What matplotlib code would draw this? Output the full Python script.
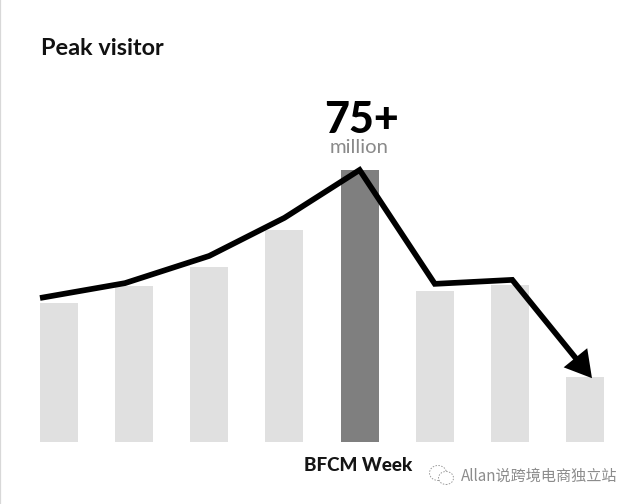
import matplotlib
matplotlib.use("Agg")
import matplotlib.pyplot as plt
from matplotlib.patches import Ellipse, FancyArrowPatch

W, H = 635, 504
bar_positions = [0, 1, 2, 3, 4, 5, 6, 7]
bar_values = [38.3, 43.0, 48.3, 58.5, 75.0, 41.6, 43.3, 17.9]
bar_colors = ["#e0e0e0", "#e0e0e0", "#e0e0e0", "#e0e0e0", "#7f7f7f", "#e0e0e0", "#e0e0e0", "#e0e0e0"]
line_x = [-0.25, 0.88, 2.0, 3.0, 4.0, 5.0, 6.03]
line_y = [39.7, 43.8, 51.3, 61.8, 75.0, 43.6, 44.7]
arrow_end = (7.09, 17.6)

PX_X = 75.2   # pixels per category
PX_Y = 3.627  # pixels per million
X0, Y0 = 58.8, 442

def data_x(px):
    return (px - X0) / PX_X

def data_y(py):
    return (Y0 - py) / PX_Y

fig = plt.figure(figsize=(W / 100, H / 100), dpi=100, facecolor="white")
ax = fig.add_axes([0, 0, 1, 1])
ax.set_xlim(data_x(0), data_x(W))
ax.set_ylim(data_y(H), data_y(0))
ax.axis("off")

ax.bar(bar_positions, bar_values, width=0.505, color=bar_colors, linewidth=0, zorder=1)

# shaft stops inside the arrow head so the tip stays sharp
frac = 0.8
shaft_x = line_x + [line_x[-1] + frac * (arrow_end[0] - line_x[-1])]
shaft_y = line_y + [line_y[-1] + frac * (arrow_end[1] - line_y[-1])]
ax.plot(shaft_x, shaft_y, color="black", lw=4.1, solid_joinstyle="miter",
        solid_capstyle="butt", zorder=3)
ax.add_patch(FancyArrowPatch((line_x[-1], line_y[-1]), arrow_end,
                             arrowstyle="-|>,head_length=1.35,head_width=0.78",
                             mutation_scale=14, lw=0, color="black",
                             shrinkA=0, shrinkB=0, zorder=3))

# left page edge
ax.axvline(data_x(0.5), color="#d8d8d8", lw=1.6, zorder=0)

ax.text(data_x(41), data_y(48.5), "Peak visitor", family="Lato", weight="bold",
        fontsize=16.9, color="#111111", va="center", ha="left")
ax.text(data_x(361), data_y(120), "75+", family="Lato", weight="black",
        fontsize=31, color="black", va="center", ha="center")
ax.text(data_x(359), data_y(148), "million", family="Lato", fontsize=14.6,
        color="#8a8a8a", va="center", ha="center")
ax.text(data_x(358.5), data_y(465.5), "BFCM Week", family="Lato", weight="black",
        fontsize=13.6, color="#151515", va="center", ha="center")

# watermark
ax.text(data_x(461), data_y(476), "Allan说跨境电商独立站",
        family=["Noto Sans CJK SC", "DejaVu Sans"], fontsize=10.9, color="#8c8c8c",
        va="center", ha="left")
ax.add_patch(Ellipse((data_x(438), data_y(473)), 17 / PX_X, 15 / PX_Y, fill=False,
                     ec="#9a9a9a", lw=0.7, ls=(0, (1.5, 1.5)), zorder=2))
ax.add_patch(Ellipse((data_x(446), data_y(478)), 15 / PX_X, 13 / PX_Y, fc="white",
                     ec="#9a9a9a", lw=0.7, ls=(0, (1.5, 1.5)), zorder=2))

fig.savefig("out.png", dpi=100, facecolor="white")
